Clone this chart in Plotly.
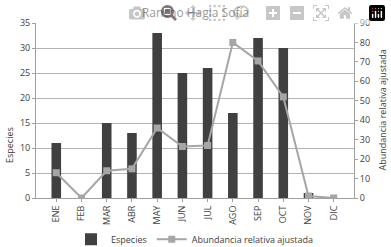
import plotly.graph_objects as go

months = ["ENE", "FEB", "MAR", "ABR", "MAY", "JUN", "JUL", "AGO", "SEP", "OCT", "NOV", "DIC"]
especies = [11, 0, 15, 13, 33, 25, 26, 17, 32, 30, 1, 0]
abundancia = [13, 0, 14, 15, 36, 26.5, 27, 80, 70.5, 52, 1, 0]

font_family = "Open Sans, Liberation Sans, sans-serif"

W, H = 391, 247
ML, MR, MT, MB = 36, 37, 23, 49
PW = W - ML - MR
PH = H - MT - MB

fig = go.Figure()
fig.add_trace(go.Bar(x=months, y=especies, name="Especies",
                     marker=dict(color="#404040", line=dict(width=0)),
                     yaxis="y"))
fig.add_trace(go.Scatter(x=months, y=abundancia, name="Abundancia relativa ajustada",
                         mode="lines+markers",
                         line=dict(color="#a6a6a6", width=2),
                         marker=dict(symbol="square", size=7, color="#a6a6a6"),
                         yaxis="y2"))

fig.update_layout(
    width=W, height=H,
    margin=dict(l=ML, r=MR, t=MT, b=MB, autoexpand=False),
    paper_bgcolor="white", plot_bgcolor="white",
    font=dict(family=font_family, size=9, color="#404040"),
    title=dict(text="Rancho Hagia Sofía", x=0.5, xanchor="center", y=0.95, yanchor="middle",
               font=dict(size=12, color="#303030")),
    bargap=0.62,
    showlegend=True,
    legend=dict(orientation="h", x=0.5, xanchor="center", y=-0.235, yanchor="middle",
                font=dict(size=9), itemwidth=30, tracegroupgap=0,
                bgcolor="rgba(0,0,0,0)"),
    xaxis=dict(tickangle=-90, showline=True, linecolor="#a0a0a0", ticks="outside",
               ticklen=3, tickcolor="#a0a0a0", tickfont=dict(size=9), automargin=False),
    yaxis=dict(range=[0, 35], dtick=5, showgrid=True, gridcolor="#b4b4b4", gridwidth=1,
               showline=True, linecolor="#a0a0a0", ticks="outside", ticklen=3,
               tickcolor="#a0a0a0", zeroline=False, automargin=False),
    yaxis2=dict(range=[0, 90], dtick=10, overlaying="y", side="right", showgrid=False,
                showline=True, linecolor="#a0a0a0", ticks="outside", ticklen=3,
                tickcolor="#a0a0a0", zeroline=False, automargin=False),
    annotations=[
        dict(text="Especies", xref="paper", yref="paper", x=(9 - ML) / PW, y=(198 - 145) / PH,
             textangle=-90, showarrow=False, xanchor="center", yanchor="middle",
             font=dict(size=9)),
        dict(text="Abundancia relativa ajustada", xref="paper", yref="paper",
             x=(382 - ML) / PW, y=0.5, textangle=-90, showarrow=False,
             xanchor="center", yanchor="middle", font=dict(size=9)),
    ],
)

fig.write_html("out.html", post_script="document.body.style.margin='0';")
